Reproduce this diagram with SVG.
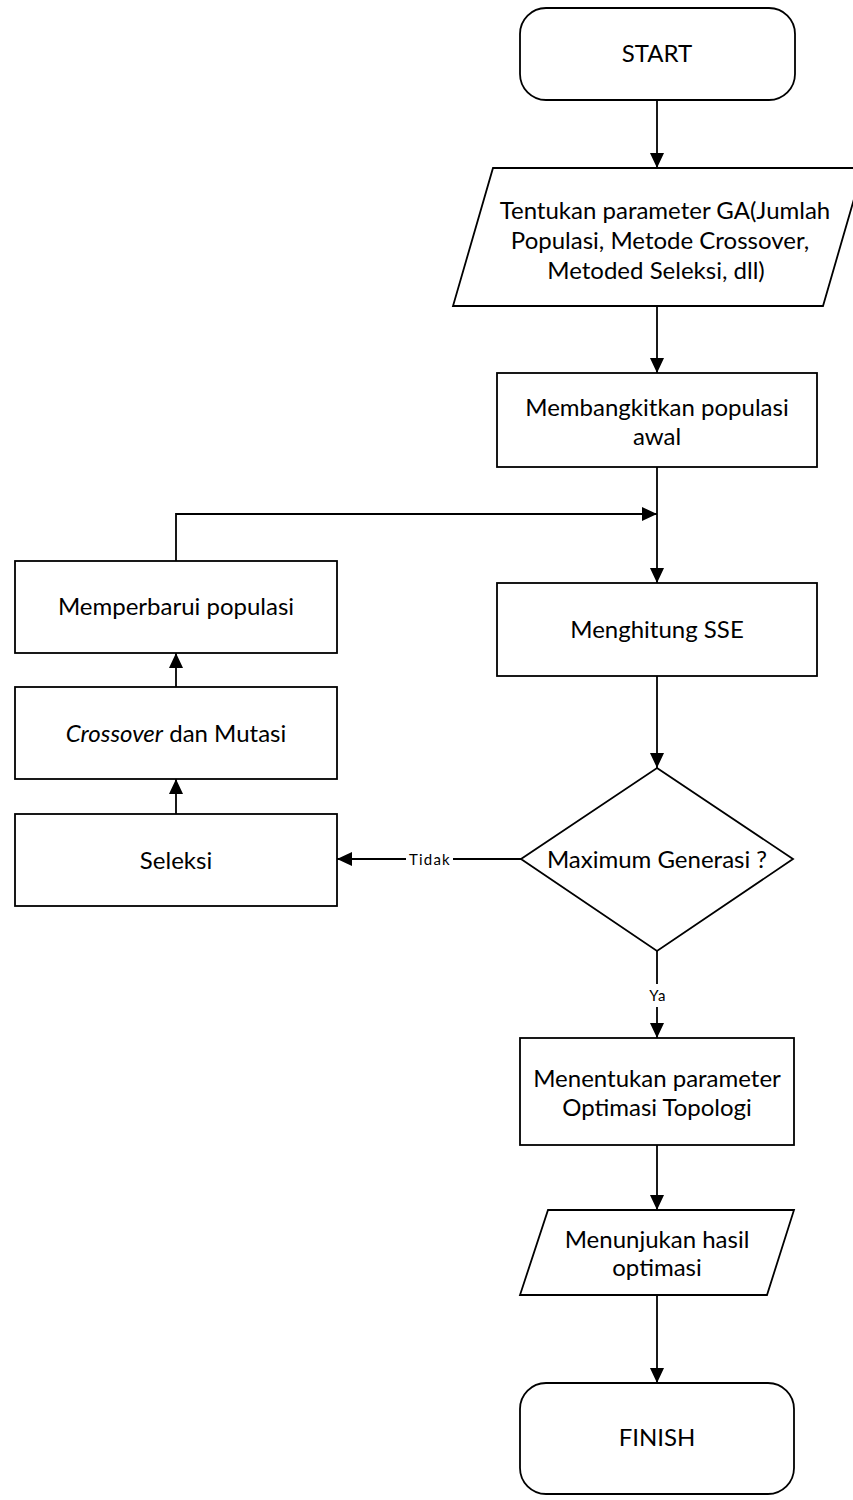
<svg xmlns="http://www.w3.org/2000/svg" width="853" height="1500" viewBox="0 0 853 1500">
<style>
.s{fill:#fff;stroke:#000;stroke-width:1.8}
.c{fill:none;stroke:#000;stroke-width:1.8}
.t{font-family:Lato,"Liberation Sans",sans-serif;font-size:24px;fill:#000;text-anchor:middle}
.l{font-family:Lato,"Liberation Sans",sans-serif;font-size:15px;letter-spacing:1.2px;fill:#000;text-anchor:middle}
</style>
<defs>
<marker id="a" markerUnits="userSpaceOnUse" viewBox="0 0 15 14" refX="15" refY="7" markerWidth="15" markerHeight="14" orient="auto">
<path d="M0,0 L15,7 L0,14 z" fill="#000"/>
</marker>
</defs>
<rect width="853" height="1500" fill="#fff"/>
<g id="connectors">
<path class="c" d="M657,100 V168" marker-end="url(#a)"/>
<path class="c" d="M657,306 V373" marker-end="url(#a)"/>
<path class="c" d="M657,467 V583" marker-end="url(#a)"/>
<path class="c" d="M176,561 V514 H657" marker-end="url(#a)"/>
<path class="c" d="M657,676 V768" marker-end="url(#a)"/>
<path class="c" d="M521,859 H453"/>
<path class="c" d="M406,859 H337" marker-end="url(#a)"/>
<path class="c" d="M657,951 V984"/>
<path class="c" d="M657,1007 V1038" marker-end="url(#a)"/>
<path class="c" d="M176,814 V779" marker-end="url(#a)"/>
<path class="c" d="M176,687 V653" marker-end="url(#a)"/>
<path class="c" d="M657,1145 V1210" marker-end="url(#a)"/>
<path class="c" d="M657,1295 V1383" marker-end="url(#a)"/>
<text class="l" x="430" y="865">Tidak</text>
<text class="l" x="658" y="1001">Ya</text>
</g>
<g id="start">
<rect class="s" x="520" y="8" width="275" height="92" rx="26"/>
<text class="t" x="657" y="62" font-size="22">START</text>
</g>
<g id="param">
<polygon class="s" points="493,168 863,168 823,306 453,306"/>
<text class="t" x="665" y="219" font-size="25.5">Tentukan parameter GA(Jumlah</text>
<text class="t" x="660" y="249" font-size="25.5">Populasi, Metode Crossover,</text>
<text class="t" x="656" y="279" font-size="25.5">Metoded Seleksi, dll)</text>
</g>
<g id="init">
<rect class="s" x="497" y="373" width="320" height="94"/>
<text class="t" x="657" y="416">Membangkitkan populasi</text>
<text class="t" x="657" y="445">awal</text>
</g>
<g id="sse">
<rect class="s" x="497" y="583" width="320" height="93"/>
<text class="t" x="657" y="638" font-size="22">Menghitung SSE</text>
</g>
<g id="update">
<rect class="s" x="15" y="561" width="322" height="92"/>
<text class="t" x="176" y="615" font-size="23">Memperbarui populasi</text>
</g>
<g id="cross">
<rect class="s" x="15" y="687" width="322" height="92"/>
<text class="t" x="176" y="742"><tspan font-style="italic">Crossover</tspan> dan Mutasi</text>
</g>
<g id="seleksi">
<rect class="s" x="15" y="814" width="322" height="92"/>
<text class="t" x="176" y="869" font-size="23">Seleksi</text>
</g>
<g id="decision">
<polygon class="s" points="657,768 793,859 657,951 521,859"/>
<text class="t" x="657" y="868">Maximum Generasi ?</text>
</g>
<g id="topo">
<rect class="s" x="520" y="1038" width="274" height="107"/>
<text class="t" x="657" y="1087">Menentukan parameter</text>
<text class="t" x="657" y="1116">Optimasi Topologi</text>
</g>
<g id="output">
<polygon class="s" points="548,1210 794,1210 767,1295 520,1295"/>
<text class="t" x="657" y="1248">Menunjukan hasil</text>
<text class="t" x="657" y="1276">optimasi</text>
</g>
<g id="finish">
<rect class="s" x="520" y="1383" width="274" height="111" rx="26"/>
<text class="t" x="657" y="1446" font-size="22">FINISH</text>
</g>
</svg>
